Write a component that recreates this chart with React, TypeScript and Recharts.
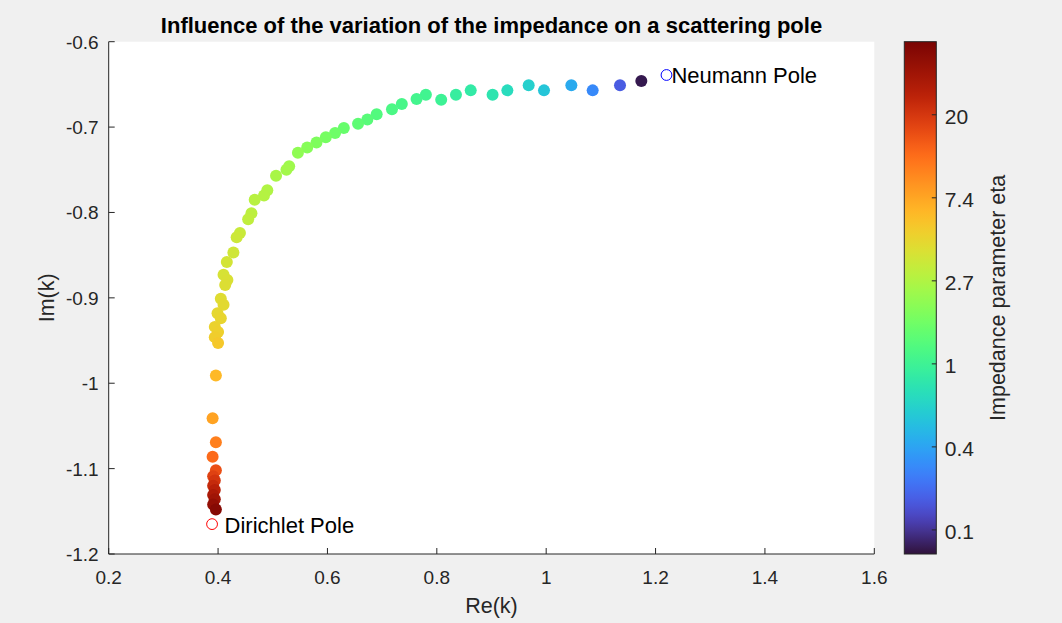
import React from 'react';
import { ScatterChart, Scatter, XAxis, YAxis, CartesianGrid } from 'recharts';

// ---- data ----
const reK = [
  1.174, 1.135, 1.085, 1.046, 0.996, 0.968, 0.929, 0.902, 0.862, 0.835,
  0.808, 0.780, 0.763, 0.736, 0.718, 0.690, 0.673, 0.656, 0.630, 0.614,
  0.597, 0.580, 0.563, 0.546, 0.530, 0.525, 0.506, 0.490, 0.484, 0.467,
  0.461, 0.455, 0.440, 0.434, 0.428, 0.416, 0.410, 0.417, 0.413, 0.405,
  0.410, 0.399, 0.405, 0.394, 0.400, 0.394, 0.400, 0.396, 0.390, 0.396,
  0.390, 0.396, 0.391, 0.394, 0.391, 0.394, 0.391, 0.394, 0.391, 0.396,
];
const imK = [
  -0.646, -0.651, -0.657, -0.651, -0.657, -0.651, -0.657, -0.662, -0.657, -0.662,
  -0.668, -0.662, -0.667, -0.673, -0.679, -0.685, -0.691, -0.696, -0.701, -0.707,
  -0.712, -0.718, -0.724, -0.730, -0.746, -0.750, -0.757, -0.774, -0.780, -0.785,
  -0.801, -0.808, -0.824, -0.829, -0.847, -0.858, -0.873, -0.879, -0.885, -0.901,
  -0.908, -0.918, -0.924, -0.934, -0.940, -0.946, -0.953, -0.991, -1.041, -1.069,
  -1.086, -1.102, -1.109, -1.114, -1.120, -1.125, -1.131, -1.136, -1.142, -1.148,
];
const etaValues = [
  0.108, 0.194, 0.289, 0.393, 0.519, 0.587, 0.686, 0.776, 0.851, 0.905,
  0.993, 1.04, 1.07, 1.12, 1.16, 1.25, 1.32, 1.40, 1.52, 1.61,
  1.72, 1.84, 1.96, 2.10, 2.35, 2.45, 2.55, 2.72, 2.80, 2.90,
  3.00, 3.10, 3.31, 3.41, 3.52, 3.63, 3.74, 3.86, 3.98, 4.10,
  4.23, 4.37, 4.50, 4.64, 4.79, 4.94, 5.25, 6.13, 7.61, 10.4,
  12.5, 15.9, 18.0, 20.4, 23.1, 26.1, 29.6, 33.5, 37.8, 42.8,
];

const poleNames = ['Neumann Pole', 'Dirichlet Pole'];
const poleRe = [1.220, 0.389];
const poleIm = [-0.639, -1.165];
const poleColors = ['#0000ff', '#ff0000'];

const xTicks = [0.2, 0.4, 0.6, 0.8, 1, 1.2, 1.4, 1.6];
const xTickLabels = ['0.2', '0.4', '0.6', '0.8', '1', '1.2', '1.4', '1.6'];
const yTicks = [-1.2, -1.1, -1, -0.9, -0.8, -0.7, -0.6];
const yTickLabels = ['-1.2', '-1.1', '-1', '-0.9', '-0.8', '-0.7', '-0.6'];

const cbTickLn = [-2, -1, 0, 1, 2, 3];
const cbTickLabels = ['0.1', '0.4', '1', '2.7', '7.4', '20'];
const LN_MIN = -2.29;
const LN_MAX = 3.88;

const TITLE = 'Influence of the variation of the impedance on a scattering pole';
const X_LABEL = 'Re(k)';
const Y_LABEL = 'Im(k)';
const CB_LABEL = 'Impedance parameter eta';

// ---- styling ----
const W = 1062;
const H = 623;
const PLOT_LEFT = 108.7;
const PLOT_RIGHT = 874.3;
const PLOT_TOP = 41.7;
const PLOT_BOTTOM = 554;
const Y_AXIS_W = 60;
const X_AXIS_H = 40;
const FONT = '"Liberation Sans", Arial, Helvetica, sans-serif';
const AX = '#262626';

const points = reK.map((x, i) => ({ x, y: imK[i], eta: etaValues[i] }));
const poles = poleNames.map((name, i) => ({ x: poleRe[i], y: poleIm[i], name, color: poleColors[i] }));

function turboPoly(t: number): number[] {
  const r = 0.13572138 + t * (4.6153926 + t * (-42.66032258 + t * (132.13108234 + t * (-152.94239396 + t * 59.28637943))));
  const g = 0.09140261 + t * (2.19418839 + t * (4.84296658 + t * (-14.18503333 + t * (4.27729857 + t * 2.82956604))));
  const b = 0.1066733 + t * (12.64194608 + t * (-60.58204836 + t * (110.36276771 + t * (-89.90310912 + t * 27.34824973))));
  return [r, g, b].map((v) => Math.min(1, Math.max(0, v)));
}
function lerp(a: number[], b: number[], u: number) {
  return a.map((v, i) => v + (b[i] - v) * u);
}
function turbo(tIn: number): string {
  const t = Math.min(1, Math.max(0, tIn));
  let c: number[];
  if (t > 0.9) c = lerp(turboPoly(0.9), [122 / 255, 4 / 255, 3 / 255], (t - 0.9) / 0.1);
  else if (t < 0.05) c = lerp([48 / 255, 18 / 255, 59 / 255], turboPoly(0.05), t / 0.05);
  else c = turboPoly(t);
  return 'rgb(' + c.map((v) => Math.round(v * 255)).join(',') + ')';
}
function etaColor(eta: number) {
  return turbo((Math.log(eta) - LN_MIN) / (LN_MAX - LN_MIN));
}

const XTick = (props: any) => {
  const { x, y, payload } = props;
  const idx = xTicks.indexOf(payload.value);
  return (
    <g>
      <line x1={x} x2={x} y1={y} y2={y - 6} stroke={AX} strokeWidth={1} />
      <text x={x} y={y + 30} textAnchor="middle" fontSize={19} fill={AX} fontFamily={FONT}>
        {idx >= 0 ? xTickLabels[idx] : String(payload.value)}
      </text>
    </g>
  );
};

const YTick = (props: any) => {
  const { x, y, payload } = props;
  const idx = yTicks.findIndex((v) => Math.abs(v - payload.value) < 1e-9);
  return (
    <g>
      <line x1={x} x2={x + 6} y1={y} y2={y} stroke={AX} strokeWidth={1} />
      <text x={x - 10} y={y + 7} textAnchor="end" fontSize={19} fill={AX} fontFamily={FONT}>
        {idx >= 0 ? yTickLabels[idx] : String(payload.value)}
      </text>
    </g>
  );
};

const DotShape = (props: any) => {
  const { cx, cy, payload } = props;
  return <circle cx={cx} cy={cy} r={6} fill={etaColor(payload.eta)} stroke="none" />;
};

const PoleShape = (props: any) => {
  const { cx, cy, payload } = props;
  const dx = payload.name === poleNames[0] ? 5 : 12.5;
  return (
    <g>
      <circle cx={cx} cy={cy} r={5.4} fill="none" stroke={payload.color} strokeWidth={1} />
      <text x={cx + dx} y={cy + 8.5} fontSize={22} fill="#000" fontFamily={FONT}>
        {payload.name}
      </text>
    </g>
  );
};

const CB_X = 904.3;
const CB_W = 32;

function cbY(ln: number) {
  return PLOT_TOP + ((LN_MAX - ln) / (LN_MAX - LN_MIN)) * (PLOT_BOTTOM - PLOT_TOP);
}

const gradientStops = Array.from({ length: 65 }, (_, i) => i / 64);

export default function App() {
  return (
    <div
      style={{
        position: 'absolute',
        left: 0,
        top: 0,
        width: W,
        height: H,
        background: '#f0f0f0',
        fontFamily: FONT,
        overflow: 'hidden',
      }}
    >
      <ScatterChart
        width={W}
        height={H}
        margin={{
          top: PLOT_TOP,
          right: W - PLOT_RIGHT,
          left: PLOT_LEFT - Y_AXIS_W,
          bottom: H - PLOT_BOTTOM - X_AXIS_H,
        }}
      >
        <CartesianGrid fill="#ffffff" fillOpacity={1} horizontal={false} vertical={false} stroke="none" />
        <XAxis
          type="number"
          dataKey="x"
          domain={[0.2, 1.6]}
          ticks={xTicks}
          interval={0}
          allowDataOverflow
          height={X_AXIS_H}
          tickSize={0}
          tickMargin={0}
          tickLine={false}
          axisLine={{ stroke: AX, strokeWidth: 1 }}
          tick={<XTick />}
        />
        <YAxis
          type="number"
          dataKey="y"
          domain={[-1.2, -0.6]}
          ticks={yTicks}
          interval={0}
          allowDataOverflow
          width={Y_AXIS_W}
          tickSize={0}
          tickMargin={0}
          tickLine={false}
          axisLine={{ stroke: AX, strokeWidth: 1 }}
          tick={<YTick />}
        />
        <Scatter data={points} shape={<DotShape />} isAnimationActive={false} />
        <Scatter data={poles} shape={<PoleShape />} isAnimationActive={false} />
      </ScatterChart>

      <svg
        width={W}
        height={H}
        style={{ position: 'absolute', left: 0, top: 0, pointerEvents: 'none' }}
        fontFamily={FONT}
      >
        <defs>
          <linearGradient id="cbGrad" x1="0" y1="1" x2="0" y2="0">
            {gradientStops.map((t) => (
              <stop key={t} offset={t} stopColor={turbo(t)} />
            ))}
          </linearGradient>
        </defs>
        <text x={(PLOT_LEFT + PLOT_RIGHT) / 2} y={33} textAnchor="middle" fontSize={22} fontWeight="bold" fill="#000">
          {TITLE}
        </text>
        <text x={(PLOT_LEFT + PLOT_RIGHT) / 2} y={613} textAnchor="middle" fontSize={21.5} fill={AX}>
          {X_LABEL}
        </text>
        <text
          x={0}
          y={0}
          transform={`translate(54, ${(PLOT_TOP + PLOT_BOTTOM) / 2}) rotate(-90)`}
          textAnchor="middle"
          fontSize={21.5}
          fill={AX}
        >
          {Y_LABEL}
        </text>

        <rect x={CB_X} y={PLOT_TOP} width={CB_W} height={PLOT_BOTTOM - PLOT_TOP} fill="url(#cbGrad)" stroke={AX} strokeWidth={1} />
        {cbTickLn.map((ln, i) => (
          <g key={ln}>
            <line x1={CB_X + CB_W} x2={CB_X + CB_W - 4.5} y1={cbY(ln)} y2={cbY(ln)} stroke={AX} strokeWidth={1} />
            <text x={CB_X + CB_W + 8.5} y={cbY(ln) + 9} fontSize={21} fill={AX}>
              {cbTickLabels[i]}
            </text>
          </g>
        ))}
        <text
          x={0}
          y={0}
          transform={`translate(1005, ${(PLOT_TOP + PLOT_BOTTOM) / 2}) rotate(-90)`}
          textAnchor="middle"
          fontSize={21.5}
          fill={AX}
        >
          {CB_LABEL}
        </text>
      </svg>
    </div>
  );
}
